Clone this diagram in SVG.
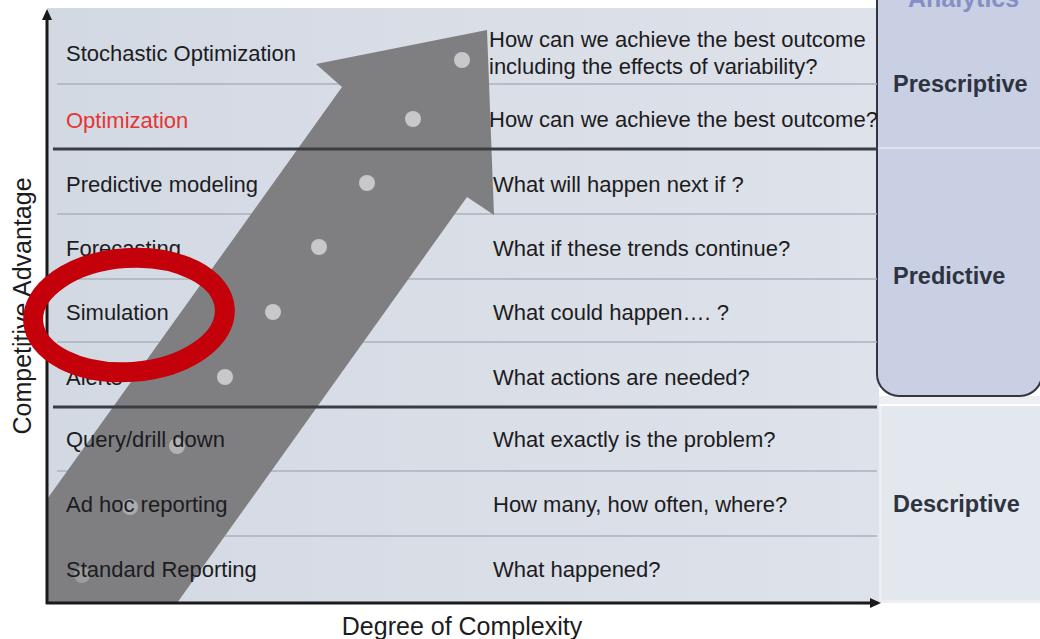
<svg xmlns="http://www.w3.org/2000/svg" width="1040" height="639" viewBox="0 0 1040 639">
<style>
.lbl{font-family:"Liberation Sans",Arial,sans-serif;font-size:22px;fill:#1c1c1e}
.q{font-family:"Liberation Sans",Arial,sans-serif;font-size:22px;fill:#1c1c1e}
.cat{font-family:"Liberation Sans",Arial,sans-serif;font-size:23.5px;font-weight:bold;fill:#2e3340}
.ax{font-family:"Liberation Sans",Arial,sans-serif;font-size:25px;fill:#1c1c1e}
.thin{stroke:#abb2bd;stroke-width:1.5}
.thick{stroke:#3a3d42;stroke-width:3}
.dot{fill:#c8c8ca}
</style>
<defs>
<linearGradient id="bg" x1="0" y1="0" x2="1" y2="0">
<stop offset="0" stop-color="#d3d9e3"/>
<stop offset="1" stop-color="#dee2ea"/>
</linearGradient>
<clipPath id="plot"><rect x="47" y="0" width="840" height="603"/></clipPath>
</defs>
<rect width="1040" height="639" fill="#ffffff"/>
<g id="panel">
<rect x="47" y="8" width="832" height="595" fill="url(#bg)"/>
</g>
<g id="right-panel">
<rect x="879" y="396" width="161" height="207" fill="#eceef3"/>
<rect x="882" y="406" width="158" height="194" fill="#e3e7ee"/>
<line x1="879" y1="405" x2="1040" y2="405" stroke="#ffffff" stroke-width="2"/>
<rect x="877" y="-30" width="165" height="426" rx="22" fill="#c9d0e3" stroke="#33363c" stroke-width="2"/>
<line x1="878" y1="148" x2="1040" y2="148" stroke="#dfe3ee" stroke-width="2"/>
<text x="908" y="7" font-family="Liberation Sans,Arial,sans-serif" font-size="25px" font-weight="bold" fill="#868ec6">Analytics</text>
</g>
<g id="rows">
<line class="thin" x1="57" y1="84" x2="877" y2="84"/>
<line class="thin" x1="57" y1="214" x2="877" y2="214"/>
<line class="thin" x1="57" y1="279" x2="877" y2="279"/>
<line class="thin" x1="57" y1="342" x2="877" y2="342"/>
<line class="thin" x1="57" y1="471" x2="877" y2="471"/>
<line class="thin" x1="57" y1="536" x2="877" y2="536"/>
</g>
<g id="big-arrow" clip-path="url(#plot)">
<polygon points="177,603 467,197 494,215 487,30 316,64 342,87 -30,607" fill="#7f7f82"/>
</g>
<g id="thick-rows">
<line class="thick" x1="53" y1="149" x2="877" y2="149"/>
<line class="thick" x1="53" y1="407" x2="877" y2="407"/>
</g>
<g id="dots">
<circle class="dot" cx="462" cy="60" r="8"/>
<circle class="dot" cx="413" cy="119" r="8"/>
<circle class="dot" cx="367" cy="183" r="8"/>
<circle class="dot" cx="319" cy="247" r="8"/>
<circle class="dot" cx="273" cy="312" r="8"/>
<circle class="dot" cx="225" cy="377" r="8"/>
<circle class="dot" cx="177" cy="446" r="8" opacity="0.7"/>
<circle class="dot" cx="130" cy="507" r="8" opacity="0.6"/>
<circle class="dot" cx="82" cy="575" r="8" opacity="0.4"/>
</g>
<g id="left-labels">
<text class="lbl" x="66" y="61">Stochastic Optimization</text>
<text class="lbl" x="66" y="128" style="fill:#e63434">Optimization</text>
<text class="lbl" x="66" y="192">Predictive modeling</text>
<text class="lbl" x="66" y="256">Forecasting</text>
<text class="lbl" x="66" y="320">Simulation</text>
<text class="lbl" x="66" y="385">Alerts</text>
<text class="lbl" x="66" y="447">Query/drill down</text>
<text class="lbl" x="66" y="512">Ad hoc reporting</text>
<text class="lbl" x="66" y="577">Standard Reporting</text>
</g>
<g id="questions">
<text class="q" x="489" y="47">How can we achieve the best outcome</text>
<text class="q" x="489" y="74">including the effects of variability?</text>
<text class="q" x="489" y="127">How can we achieve the best outcome?</text>
<text class="q" x="493" y="192">What will happen next if ?</text>
<text class="q" x="493" y="256">What if these trends continue?</text>
<text class="q" x="493" y="320">What could happen…. ?</text>
<text class="q" x="493" y="385">What actions are needed?</text>
<text class="q" x="493" y="447">What exactly is the problem?</text>
<text class="q" x="493" y="512">How many, how often, where?</text>
<text class="q" x="493" y="577">What happened?</text>
</g>
<g id="categories">
<text class="cat" x="893" y="92">Prescriptive</text>
<text class="cat" x="893" y="284">Predictive</text>
<text class="cat" x="893" y="512">Descriptive</text>
</g>
<g id="axes">
<line x1="47" y1="604" x2="47" y2="18" stroke="#1a1a1a" stroke-width="3"/>
<polygon points="47,9 42,20 52,20" fill="#1a1a1a"/>
<line x1="46" y1="603" x2="872" y2="603" stroke="#1a1a1a" stroke-width="3"/>
<polygon points="881,603 870,598 870,608" fill="#1a1a1a"/>
<text class="ax" x="462" y="635" text-anchor="middle">Degree of Complexity</text>
<text class="ax" x="0" y="0" text-anchor="middle" transform="translate(31,306) rotate(-90)">Competitive Advantage</text>
</g>
<g id="highlight">
<ellipse cx="129" cy="315" rx="96" ry="57" fill="none" stroke="#c4000a" stroke-width="20" transform="rotate(-4 129 315)"/>
</g>
</svg>
